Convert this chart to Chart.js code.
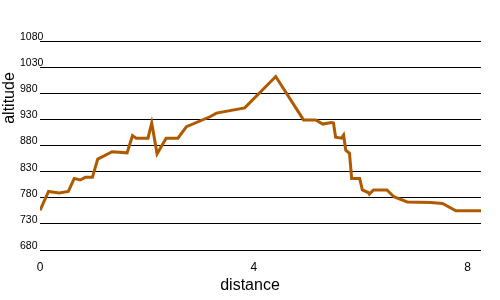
<!DOCTYPE html>
<html>
<head>
<meta charset="utf-8">
<script src="https://cdn.jsdelivr.net/npm/chart.js@4"></script>
<style>
  body { margin: 0; background: #ffffff; }
  #chart { display: block; }
</style>
</head>
<body>
<canvas id="chart" width="500" height="300"></canvas>
<script>
// distance along the track and the altitude there
const distance = [0, 0.16, 0.36, 0.53, 0.64, 0.75, 0.85, 0.98, 1.08, 1.35, 1.63, 1.73, 1.80, 2.02, 2.09, 2.19, 2.36, 2.58, 2.74, 3.18, 3.30, 3.83, 4.41, 4.93, 5.16, 5.29, 5.45, 5.49, 5.53, 5.64, 5.68, 5.72, 5.79, 5.83, 5.98, 6.03, 6.14, 6.16, 6.24, 6.49, 6.62, 6.87, 7.31, 7.53, 7.78, 8.25];
const altitude = [756, 792, 789, 792, 817, 814, 819, 819, 854, 868, 866, 899, 894, 894, 923, 864, 894, 894, 916, 935, 942, 952, 1012, 929, 929, 921, 924, 923, 896, 894, 900, 871, 865, 817, 817, 795, 790, 787, 795, 795, 782, 772, 771, 769, 755, 755];

// tick labels
const xTicks = [0, 4, 8];
const yTicks = [680, 730, 780, 830, 880, 930, 980, 1030, 1080];

const xTitle = 'distance';
const yTitle = 'altitude';

const FONT = "'Liberation Sans', Arial, sans-serif";

// build the points for the line
const points = distance.map(function(d, i) {
  return { x: d, y: altitude[i] };
});

// draws the two axis titles where the original had them
const axisTitles = {
  id: 'axisTitles',
  afterDraw: function(chart) {
    const ctx = chart.ctx;
    const area = chart.chartArea;
    ctx.save();
    ctx.fillStyle = '#000000';
    ctx.font = '16px ' + FONT;
    ctx.textAlign = 'center';
    ctx.textBaseline = 'middle';
    ctx.fillText(xTitle, area.left + 210, chart.height - 14);
    ctx.translate(10, area.top + 57);
    ctx.rotate(-Math.PI / 2);
    ctx.fillText(yTitle, 0, 0);
    ctx.restore();
  }
};

new Chart(document.getElementById('chart').getContext('2d'), {
  type: 'line',
  data: {
    datasets: [{
      data: points,
      borderColor: '#b05a00',
      borderWidth: 3,
      pointRadius: 0,
      tension: 0,
      fill: false
    }]
  },
  options: {
    responsive: false,
    animation: false,
    devicePixelRatio: 1,
    layout: { padding: { left: 40, right: 19, top: 41, bottom: 0 } },
    plugins: {
      legend: { display: false },
      tooltip: { enabled: false }
    },
    scales: {
      x: {
        type: 'linear',
        min: 0,
        max: distance[distance.length - 1],
        grid: { display: false },
        border: { display: false },
        afterBuildTicks: function(scale) {
          scale.ticks = xTicks.map(function(v) { return { value: v }; });
        },
        ticks: {
          padding: 2,
          color: '#000000',
          font: { family: FONT, size: 12 },
          callback: function(value) { return String(value); }
        },
        afterFit: function(scale) { scale.height = 50; }
      },
      y: {
        min: yTicks[0],
        max: yTicks[yTicks.length - 1],
        grid: {
          color: '#000000',
          lineWidth: 1,
          drawTicks: false
        },
        border: { display: false },
        afterBuildTicks: function(scale) {
          scale.ticks = yTicks.map(function(v) { return { value: v }; });
        },
        ticks: {
          mirror: true,
          labelOffset: -4,
          padding: -20,
          color: '#000000',
          font: { family: FONT, size: 10.5 },
          callback: function(value) { return String(value); }
        },
        afterFit: function(scale) { scale.width = 0; }
      }
    }
  },
  plugins: [axisTitles]
});
</script>
</body>
</html>
